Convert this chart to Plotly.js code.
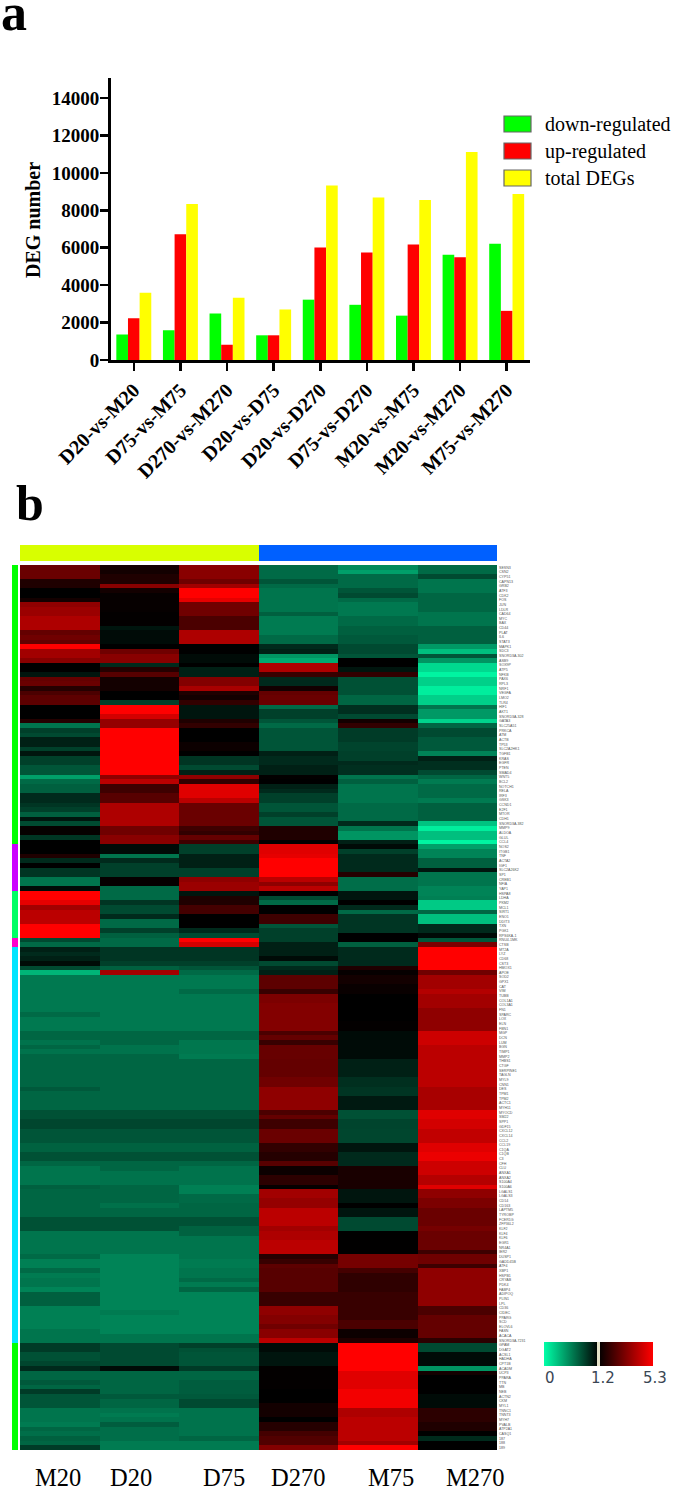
<!DOCTYPE html>
<html>
<head>
<meta charset="utf-8">
<script src="https://cdn.plot.ly/plotly-3.0.1.min.js"></script>
<style>
  html, body { margin: 0; padding: 0; background: #fff; }
  #chart { width: 675px; height: 1492px; }
</style>
</head>
<body>
<div id="chart"></div>
<script>
// panel a
const comparisons = ['D20-vs-M20', 'D75-vs-M75', 'D270-vs-M270', 'D20-vs-D75', 'D20-vs-D270', 'D75-vs-D270', 'M20-vs-M75', 'M20-vs-M270', 'M75-vs-M270'];
const downRegulated = [1360, 1594, 2480, 1320, 3224, 2950, 2370, 5630, 6210];
const upRegulated = [2228, 6720, 815, 1320, 6010, 5740, 6175, 5490, 2626];
const totalDEGs = [3600, 8330, 3330, 2700, 9330, 8690, 8550, 11120, 8870];

// panel b, one array per sample, 190 rows top to bottom
const sampleNames = ['M20', 'D20', 'D75', 'D270', 'M75', 'M270'];
const m20 = [
  2.9,2.9,2.9,1.7,1.7,1.2,1.2,1.5,3.5,3.7,
  3.7,4,4,4,2.8,3,2.8,5.3,3.8,3.8,
  3.4,1.2,1.2,1.1,2.8,2.9,1.8,2.4,2.7,2.7,
  1.2,1.2,1.2,1.8,.65,.9,.85,1.05,1.05,.9,
  1.1,.9,.9,.8,.8,.45,.7,.75,.75,1,
  1,.95,.9,.75,1.1,.85,1.3,1.3,.95,1.2,
  1.2,1.2,1.7,1,1.2,.95,.95,.65,.65,1.15,
  5.3,5.3,4.9,3.8,4.2,4.2,4.2,5.3,5.3,5.3,
  .85,.7,1.05,1,1.05,1.15,.85,.35,.63,.63,
  .63,.63,.63,.63,.63,.63,.7,.63,.63,.63,
  .72,.72,.66,.72,.66,.72,.72,.72,.72,.72,
  .72,.72,.78,.72,.72,.72,.72,.82,.82,.87,
  .87,.8,.8,.8,.74,.74,.82,.82,.72,.65,
  .65,.65,.65,.75,.72,.72,.72,.72,.72,.72,
  .82,.82,.82,.65,.65,.65,.65,.65,.7,.6,
  .6,.7,.62,.65,.65,.58,.75,.75,.75,.6,
  .6,.6,.6,.6,.65,.65,.65,.92,.92,.82,
  .82,.87,1,.72,.72,.78,.72,.92,.8,.8,
  .8,.65,.65,.65,.62,.72,.68,.75,.72,.92
];
const d20 = [
  1.5,1.5,1.7,1.7,3.4,1.5,1.3,1.3,1.3,1.3,
  1.25,1.25,1.25,1.1,1.15,1.15,1.15,1.2,3,3.4,
  3.4,1,1.8,2.6,1.5,1.5,1.5,1.2,1.2,.9,
  5.3,5.3,4.6,3.6,3.6,5.3,5.3,5.3,5.3,5.3,
  5.3,5.3,5.3,5.3,5.3,3.5,4.2,2.2,2.2,2.6,
  2.6,4,4,4,4,4,3,3,3.4,3.4,
  1.15,1.15,.65,1,.9,.9,.9,1.3,1.3,.7,
  .7,.7,.95,.85,.85,1,.7,.7,.9,.75,
  .7,.7,.95,.95,.95,.9,.75,3.8,.63,.63,
  .63,.63,.63,.63,.63,.63,.63,.63,.63,.63,
  .72,.72,.72,.66,.66,.72,.72,.72,.72,.72,
  .72,.72,.72,.72,.72,.72,.72,.82,.82,.87,
  .87,.8,.8,.8,.74,.74,.82,.82,.72,.72,
  .66,.66,.66,.72,.72,.72,.72,.67,.72,.72,
  .82,.82,.82,.65,.65,.65,.65,.65,.58,.58,
  .58,.58,.58,.58,.58,.58,.58,.58,.58,.58,
  .62,.58,.58,.58,.58,.65,.65,.85,.85,.85,
  .85,.85,1.15,.72,.72,.72,.72,.72,.78,.72,
  .72,.66,.62,.66,.76,.68,.68,.68,.62,.62
];
const d75 = [
  3.4,3.4,3.4,3,3.8,5.3,5.3,4.9,3,3,
  3,2.4,2.4,2.4,4,4,4,1.2,1.2,1.15,
  1.15,1.2,1.05,1.05,3.3,3.3,3.9,1.7,1.5,2,
  1.1,1.1,1.1,1.7,2,1.2,1.2,1.2,1.4,1.4,
  1.2,.95,.95,.85,1.05,3.5,2,4.8,4.8,4.8,
  4.2,2.9,2.9,2.9,2.9,2.9,2.2,2,2.8,2.2,
  .9,.9,1.05,1.05,1.05,.9,.9,3.5,3.7,3.7,
  1.1,1.7,1.7,2.3,2.3,1.2,1.2,1.2,1,.85,
  5.3,4.6,.95,.95,.95,.9,.8,.7,.63,.63,
  .63,.7,.63,.63,.63,.63,.63,.63,.63,.63,
  .72,.72,.64,.64,.64,.62,.72,.72,.72,.72,
  .72,.72,.72,.72,.72,.72,.72,.82,.82,.87,
  .87,.8,.8,.8,.74,.74,.82,.82,.72,.66,
  .66,.66,.66,.6,.6,.7,.7,.72,.72,.72,
  .82,.82,.74,.74,.65,.65,.65,.65,.65,.62,
  .62,.65,.65,.7,.62,.72,.58,.58,.58,.58,
  .58,.58,.58,.58,.58,.65,.65,.9,.82,.8,
  .8,.8,.92,.72,.72,.76,.76,.76,.78,.85,
  .85,.66,.66,.66,.66,.66,.66,.72,.62,.62
];
const d270 = [
  .7,.7,.7,.8,.7,.65,.65,.65,.65,.65,
  .75,.62,.62,.62,.62,.7,.7,1,1.05,.5,
  .4,4,4,2.1,1,1,1.5,2.8,2.9,2.9,
  .7,.9,.9,.8,.7,.8,.8,.8,.8,.8,
  1.05,1,1,1.05,1.05,1.25,1.2,1.05,1,.9,
  .9,.8,.8,.9,.8,.8,1.7,1.7,1.7,1.3,
  4.8,4.8,4.9,5.3,5.3,5.3,5.3,4.2,3.5,4.2,
  1.2,.85,.7,1.2,1.2,2.2,2.2,.8,.9,.9,
  .9,1.05,1.05,1.05,1.15,.85,1,1.05,2.7,2.7,
  2.7,2.1,3.2,3.2,3.3,3.3,3.3,3.3,3.3,3.3,
  2.4,2.8,2.1,2.85,2.85,2.85,2.8,2.8,2.8,2.8,
  3,3,3.5,3.5,3.5,3.5,3.5,2.4,2.8,2.2,
  2.2,2.9,2.9,2.9,2,2,1.8,1.8,2.6,1.4,
  1.4,1.9,1.9,1.3,3.8,3.8,3.6,3.6,4.2,4.2,
  4.2,4.2,3.8,4,4,4.2,4.2,4.2,1.8,2.1,
  2.7,2.6,2.6,2.6,2.6,2.6,2.1,2.1,2.1,3.5,
  3.5,3.3,3.3,3,3.4,3.4,4.2,1.15,1.15,1.1,
  1.1,1.1,1.25,1.25,1.25,1.25,1.25,1.2,1.2,1.2,
  1.5,1.5,1.5,1.2,1.8,1.8,2.3,2.5,2.5,3.3
];
const m75 = [
  .55,.45,.7,.7,.7,.8,.85,.7,.63,.63,
  .63,.7,.7,.75,.75,.78,.78,.85,.85,.8,
  1.2,1.2,1.1,2,.82,.82,.82,.82,.72,.72,
  .98,.98,.85,1.5,2,.92,.92,.92,.88,.88,
  .9,.9,1,.98,.98,.65,.75,.65,.65,.65,
  .65,.7,.7,.7,.7,1,.65,.5,.5,1.05,
  1.15,.9,1,1,1,1,1.8,.68,.68,.68,
  1.1,1.1,1.2,1,.7,.95,.95,.95,.95,1.2,
  1.2,.75,1,1,1,1,1.7,1.3,1.5,1.5,
  1.35,1.35,1.2,1.2,1.2,1.2,1.2,1.2,1.25,1.25,
  1.15,1.15,1.15,1.15,1.15,1.15,1.05,1.05,1.05,1.05,
  .98,.98,.95,.95,1.08,1.08,1.08,.82,.82,.88,
  .88,.87,.87,.87,1.1,1.1,1,1,1,1.6,
  1.6,1.6,1.6,1.6,1.1,1.1,1.1,1.2,1.1,1.1,
  .85,.85,.85,1.22,1.22,1.22,1.22,1.22,3.1,3.1,
  3.1,2.3,1.95,1.95,1.95,1.95,2.1,2.1,2.1,2.1,
  2.1,2.1,2.4,2.4,1.4,1.4,1.7,5.3,5.3,5.3,
  5.3,5.3,5.3,4.8,4.8,4.8,4.8,5.1,5.1,5.1,
  5.1,4,4,4.2,4.2,4.2,4.2,4.2,3.8,5.3
];
const m270 = [
  .7,.7,.85,.65,.65,.65,.72,.72,.72,.72,
  .65,.65,.65,.75,.75,.75,.75,.48,.3,.8,
  .5,.18,.18,.05,.22,.22,.08,.08,.22,.22,
  .65,.48,.48,.2,.72,.85,.85,.78,.78,.78,
  .58,1.05,.98,.98,.85,.72,.62,.7,.7,.7,
  .62,.75,.75,.75,.75,.28,.08,.3,.3,.05,
  .45,.58,.58,.75,.75,1.1,.65,.65,.65,.58,
  .58,.6,.25,.25,.72,.3,.3,1,1,1.15,
  .78,3.2,5.3,5.3,5.3,5.3,5.3,3,3.8,3.8,
  3.8,4.1,3.8,3.8,3.8,3.5,3.5,3.5,3.5,3.5,
  4.5,4.5,4.5,4.2,4.2,4.2,4.2,4.2,4.2,4.2,
  4.2,4.2,3.9,3.9,3.9,3.9,3.9,4.8,4.8,4.6,
  4.6,4.3,4.3,4.3,4.8,4.8,5,5,4.5,4.5,
  4.5,4.1,4.1,4.8,3.5,3.5,3.2,3.2,2.9,2.9,
  2.9,2.9,3.1,2.9,2.9,2.9,2.9,2.2,3,3,
  2.2,3.5,3.5,3.5,3.5,3.5,3.5,3.5,3.5,2.4,
  2.4,2.8,2.8,2.8,2.8,2.8,1.9,.85,.85,1.15,
  1.15,1.15,.5,1.5,1.2,1.2,1.2,1.2,1.15,1.15,
  1.15,1.9,1.9,1.9,1.7,1.7,1.2,1,1.2,1.2
];

// left side cluster strip, run lengths in rows
const clusterRuns = [60, 10, 10, 2, 85, 23];
const clusterColors = ['#00ff00', '#cc00ff', '#00ff66', '#ff00cc', '#00e5ff', '#00ff00'];

// the tiny row labels are not readable in the source, these are estimates
const rowLabels = ('SESN3 CSN2 CYP51 CAPN13 GRB2 ATF3 CDK2 FOS JUN LDLR CAD64 MYC BAX CD44 PLAT IL6 STAT3 MAPK1 SDC3 SNORD3A-302 ASB9 SOX9P ATP5 NFKB PAX6 RPL3 NRF1 VEGFA LMO2 TLR4 HIF1 AKT1 SNORD3A-328 GATA3 SLC25A51 PRKCA ATM ACTB TP53 SLC2A2HK1 TGFB1 KRAS EGFR PTEN SMAD4 WNT5 BCL2 NOTCH1 RELA IRF3 GSK3 CCND1 E2F1 MTOR CDH1 SNORD3A-382 MMP9 ALDOA GLUL CCL4 NOS2 ITGB1 TNF ACTA2 IGF1 SLC2A26K2 SP1 CREB1 NFIA YAP1 HSPA8 LDHA PKM2 MCL1 SIRT1 ENO1 DDIT3 TXN PGK1 RPS6KA-1 RNU4-1MK CTSB MT2A LYZ CD68 CST3 HMOX1 APOE SOD2 GPX1 CAT VIM TUBB COL1A1 COL3A1 FN1 SPARC LOX ELN FBN1 MGP DCN LUM BGN TIMP1 MMP2 THBS1 CTGF SERPINE1 TAGLN MYL9 CNN1 DES TPM1 TPM2 ACTC1 MYH11 MYOCD SM22 SPP1 GDF15 CXCL12 CXCL14 CCL2 CCL19 C1QA C1QB C3 CFH CLU ANXA1 ANXA2 S100A4 S100A6 LGALS1 LGALS3 CD14 CD163 LAPTM5 TYROBP FCER1G ZFP36L2 KLF2 KLF4 KLF6 EGR1 NR4A1 IER2 DUSP1 GADD45B ATF4 XBP1 HSPB1 CRYAB PDK4 FABP4 ADIPOQ PLIN1 LPL CD36 CIDEC PPARG SCD ELOVL6 FASN ACACA SNORD3A-7231 GPAM DGAT2 ACSL1 HADHA CPT1B ACADM UCP3 PPARA TTN MB NEB ACTN2 CKM MYL1 TNNC1 TNNT3 MYH7 PVALB ATP2A1 CASQ1').split(' ');

const dpi = { w: 675, h: 1492 };
const fx = px => px / dpi.w;
const fy = px => 1 - px / dpi.h;

// colours run 0 - 1.2 over one half of the scale and 1.2 - 5.3 over the other
const toLevel = v => v <= 1.2 ? v / 1.2 : 1 + (v - 1.2) / 4.1;
const columns = [m20, d20, d75, d270, m75, m270];
const rowIdx = m20.map((_, i) => i);
const zLevels = rowIdx.map(i => columns.map(col => toLevel(col[i])));

let clusterCodes = [];
clusterRuns.forEach((n, k) => { for (let i = 0; i < n; i++) clusterCodes.push([k]); });

const barFont = { family: 'Liberation Serif', size: 19, color: '#000' };
const barBase = { type: 'bar', x: comparisons, xaxis: 'x', yaxis: 'y', showlegend: false };

const traces = [
  { ...barBase, y: downRegulated, name: 'down-regulated', marker: { color: '#00ff00' } },
  { ...barBase, y: upRegulated, name: 'up-regulated', marker: { color: '#ff0000' } },
  { ...barBase, y: totalDEGs, name: 'total DEGs', marker: { color: '#ffff00' } },
  {
    type: 'heatmap', xaxis: 'x2', yaxis: 'y2', x: sampleNames, y: rowIdx, z: zLevels,
    zmin: 0, zmax: 2, hoverinfo: 'skip',
    colorscale: [[0, '#00ffa8'], [0.5, '#000000'], [1, '#ff0000']],
    colorbar: {
      orientation: 'h', lenmode: 'pixels', len: 109, thickness: 24,
      x: fx(544), xanchor: 'left', y: fy(1342), yanchor: 'top',
      xpad: 0, ypad: 0, outlinewidth: 0,
      tickmode: 'array', tickvals: [0, 1, 2], showticklabels: false,
      ticks: 'inside', ticklen: 24, tickwidth: 3, tickcolor: '#e4e2c8'
    }
  },
  {
    type: 'heatmap', xaxis: 'x3', yaxis: 'y2', z: clusterCodes, y: rowIdx, x: ['group'],
    zmin: 0, zmax: clusterColors.length - 1, showscale: false, hoverinfo: 'skip',
    colorscale: clusterColors.map((c, k) => [k / (clusterColors.length - 1), c])
  },
  {
    type: 'heatmap', xaxis: 'x4', yaxis: 'y4', z: [[0, 1]], showscale: false, hoverinfo: 'skip',
    colorscale: [[0, '#d8ff00'], [1, '#0060ff']]
  }
];

const hiddenAxis = { visible: false, fixedrange: true };
const paperText = (text, x, y, size, weight, family, color) => ({
  text, x: fx(x), y: fy(y), xref: 'paper', yref: 'paper', showarrow: false,
  xanchor: 'center', yanchor: 'middle', borderpad: 0,
  font: { family: family || 'Liberation Serif', size, color: color || '#000', weight: weight || 400 }
});

const legendNames = ['down-regulated', 'up-regulated', 'total DEGs'];
const legendColors = ['#00ff00', '#ff0000', '#ffff00'];
const legendY = [124, 151, 178];

const shapes = legendY.map((y, i) => ({
  type: 'rect', xref: 'paper', yref: 'paper',
  x0: fx(504), x1: fx(531), y0: fy(y - 8), y1: fy(y + 8),
  fillcolor: legendColors[i], line: { color: '#666', width: 1.2 }
}));

const annotations = [
  paperText('a', 14, 12, 52, 700),
  paperText('b', 30, 503, 50, 700),
  paperText('DEG number', 33, 220, 20, 700),
  ...legendNames.map((t, i) => ({ ...paperText(t, 544, legendY[i], 20), xanchor: 'left' })),
  ...sampleNames.map((t, i) => paperText(t, [58, 131, 224, 298, 391, 476][i], 1477, 24.5)),
  ...['0', '1.2', '5.3'].map((t, i) => paperText(t, [550, 603, 655][i], 1378, 15, 400, 'DejaVu Sans', '#3a4654'))
];
annotations[2].textangle = -90;

const layout = {
  width: dpi.w, height: dpi.h,
  margin: { l: 0, r: 0, t: 0, b: 0 },
  paper_bgcolor: '#fff', plot_bgcolor: '#fff',
  barmode: 'group', bargap: 0.25, bargroupgap: 0,
  showlegend: false,
  xaxis: {
    domain: [fx(110.5), fx(530)], anchor: 'y', type: 'category', fixedrange: true,
    showline: true, linecolor: '#000', linewidth: 2.5,
    ticks: 'outside', ticklen: 8, tickwidth: 2.5, tickcolor: '#000',
    tickangle: -45, tickfont: { ...barFont, size: 20, weight: 700 }
  },
  yaxis: {
    domain: [fy(360), fy(78)], anchor: 'x', range: [0, 15070], fixedrange: true,
    showline: true, linecolor: '#000', linewidth: 2.5, showgrid: false, zeroline: false,
    ticks: 'outside', ticklen: 8, tickwidth: 2.5, tickcolor: '#000',
    tickmode: 'array', tickvals: [0, 2000, 4000, 6000, 8000, 10000, 12000, 14000],
    tickformat: 'd', ticklabelstandoff: -3,
    tickfont: { ...barFont, weight: 700 }
  },
  xaxis2: { ...hiddenAxis, domain: [fx(20), fx(497)], anchor: 'y2' },
  yaxis2: {
    domain: [fy(1450), fy(565)], anchor: 'x2', range: [189.5, -0.5], fixedrange: true,
    side: 'right', showgrid: false, zeroline: false, showline: false, ticks: '',
    tickmode: 'array', tickvals: rowIdx, ticktext: rowLabels, ticklabelstandoff: 1,
    tickfont: { family: 'Liberation Sans', size: 3.6, color: '#555' }
  },
  xaxis3: { ...hiddenAxis, domain: [fx(12), fx(18)], anchor: 'y2' },
  xaxis4: { ...hiddenAxis, domain: [fx(20), fx(497)], anchor: 'y4' },
  yaxis4: { ...hiddenAxis, domain: [fy(561), fy(545)], anchor: 'x4' },
  shapes, annotations
};

Plotly.newPlot('chart', traces, layout, { displayModeBar: false, staticPlot: true });
</script>
</body>
</html>
